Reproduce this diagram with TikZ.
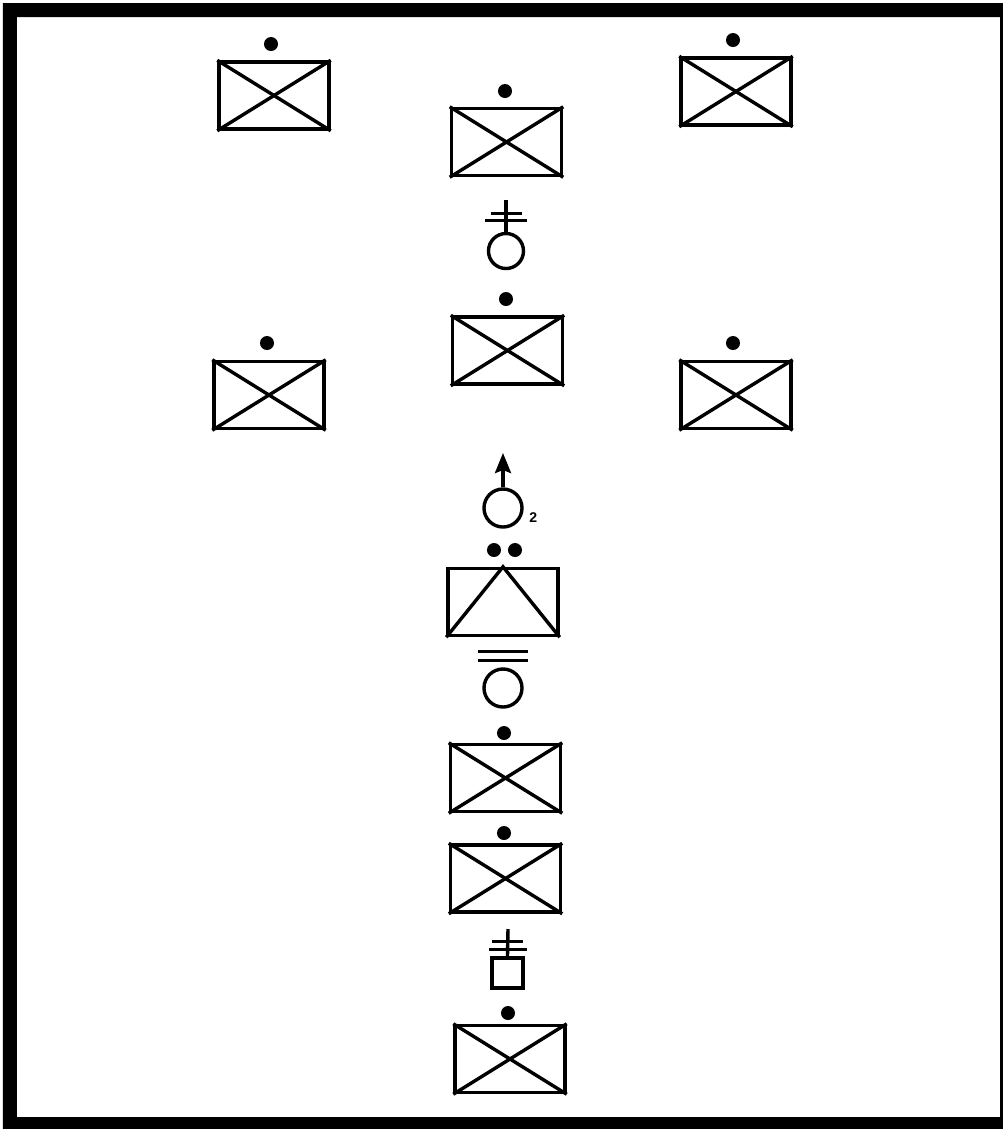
\documentclass[tikz,border=0pt]{standalone}
\usepackage{fontspec}
\setmainfont{Liberation Sans}
\usepackage{tikz}
\usetikzlibrary{arrows.meta,positioning}

\begin{document}
\begin{tikzpicture}[x=0.01cm,y=-0.01cm,line width=0.034cm,
    unitbox/.style={draw,rectangle,inner sep=0pt,minimum width=1.1cm,minimum height=0.67cm},
    dotmark/.style={circle,fill=black,inner sep=0pt,minimum size=0.14cm},
    ringmark/.style={draw,circle,inner sep=0pt},
    barmark/.style={rectangle,fill=black,inner sep=0pt,minimum height=0.03cm}]
    \useasboundingbox (0,0) rectangle (1003,1129);
    % frame
    \fill[black,even odd rule] (3,3) rectangle (1003,1129) (17,17) rectangle (1000,1117);

    % crossed boxes with their dots
    \foreach \name/\x/\y/\dx/\dy in {ua/274/95.5/271/44,ub/506.5/142/505/91,uc/736/91.5/733/40,
        ud/507.5/350.5/506/299,ue/269/395/267/343,uf/736/395/733/343,
        ug/505.5/778/504/733,uh/505.5/878.5/504/833,ui/510/1059/508/1013} {
      \node[unitbox] (\name) at (\x,\y) {};
      \node[dotmark] (\name dot) at (\dx,\dy) {};
      \draw (\name.north west) -- (\name.south east);
      \draw (\name.south west) -- (\name.north east);
    }

    % box with the two dots
    \node[unitbox] (uj) at (503,602) {};
    \node[dotmark] (ujdota) at (494,550) {};
    \node[dotmark] (ujdotb) at (515,550) {};
    \draw (uj.south west) -- (uj.north) -- (uj.south east);

    % upper ring with mast
    \node[ringmark,minimum size=0.35cm] (ringa) at (506,251) {};
    \coordinate (mastatop) at (506,200);
    \draw (ringa.north) -- (mastatop);
    \node[barmark,minimum width=0.31cm] (barat) at (506.5,213) {};
    \node[barmark,minimum width=0.42cm] (barab) at (506,220) {};

    % ring with arrow
    \node[ringmark,minimum size=0.38cm] (ringb) at (503,508) {};
    \coordinate (arrowtip) at (503,453);
    \draw[-{Stealth[length=0.2cm,width=0.16cm,inset=0.03cm]}] (ringb.north) -- (arrowtip);
    \node[below right=0.025cm and 0.04cm of ringb.east,inner sep=0pt,font=\fontsize{4}{5}\selectfont\bfseries] (ringblabel) {2};

    % ring under the box
    \node[ringmark,minimum size=0.38cm] (ringc) at (503,688) {};
    \node[barmark,minimum width=0.5cm] (barct) at (503,651) {};
    \node[barmark,minimum width=0.5cm] (barcb) at (503,660) {};

    % square with mast
    \node[draw,rectangle,inner sep=0pt,minimum width=0.31cm,minimum height=0.3cm] (sq) at (507.5,973) {};
    \coordinate (mastbtop) at (508,929);
    \draw (sq.north) -- (mastbtop);
    \node[barmark,minimum width=0.31cm] (barbt) at (507.5,941) {};
    \node[barmark,minimum width=0.38cm] (barbb) at (508,949) {};
  \end{tikzpicture}
\end{document}
